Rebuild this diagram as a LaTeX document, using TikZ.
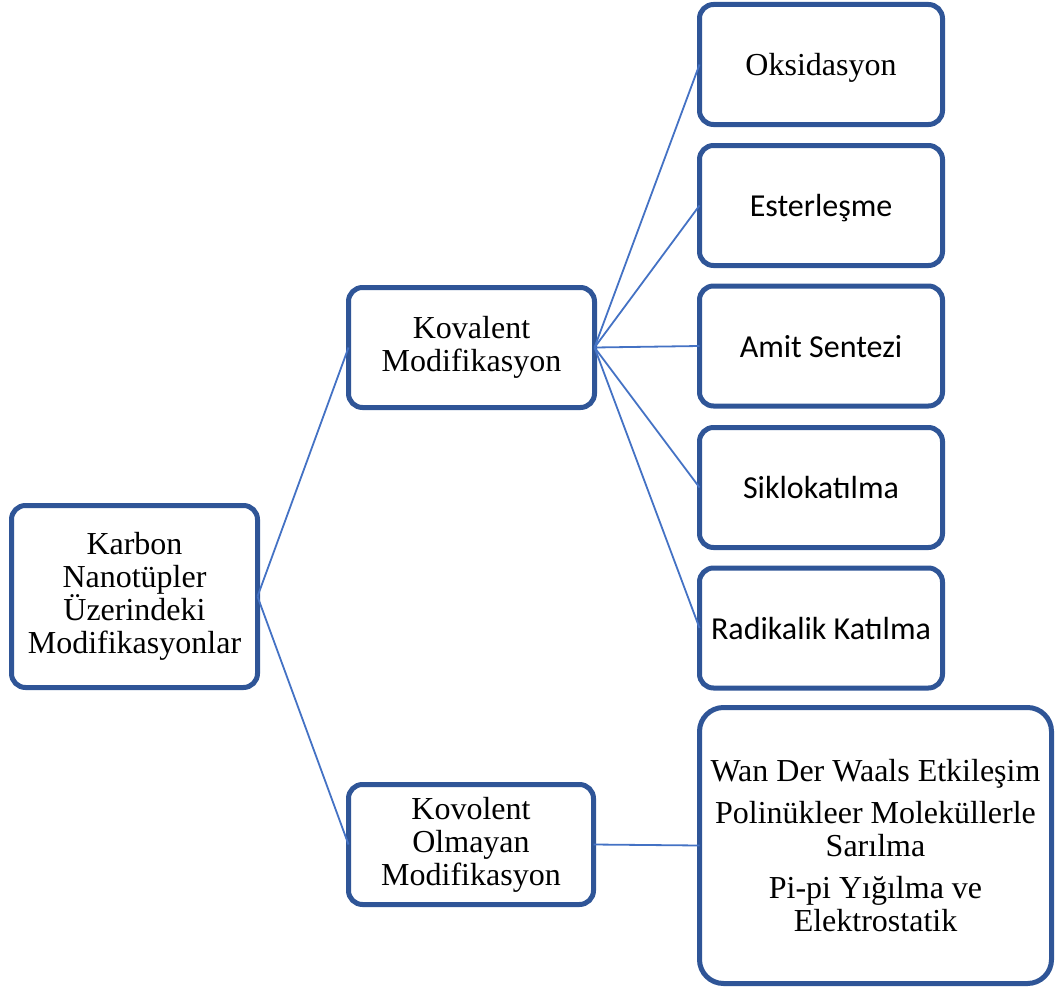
\documentclass[tikz,border=0pt]{standalone}
\usepackage{fontspec}
\setmainfont{Liberation Serif}
\newfontfamily\calibrifont{Carlito}
\usepackage{xcolor}
\usepackage{tikz}
\usetikzlibrary{positioning}
\definecolor{boxblue}{HTML}{2F5597}
\definecolor{lineblue}{HTML}{4472C4}

\begin{document}
\begin{tikzpicture}[
  x=1pt, y=-1pt,
  box/.style={draw=boxblue, fill=white, line width=5pt, rounded corners=14pt, align=center, outer sep=0pt, inner sep=2pt, font=\fontsize{32}{33}\selectfont},
  subbox/.style={box, minimum width=243pt, minimum height=120pt, text depth=0pt},
  sansbox/.style={subbox, font=\calibrifont\fontsize{32}{33}\selectfont},
  link/.style={draw=lineblue, line width=1.8pt},
]
  \useasboundingbox (0,0) rectangle (1057,990);

  \node[box, minimum width=246pt, minimum height=182pt] (root) at (134.5,596.5) {Karbon\\Nanotüpler\\Üzerindeki\\Modifikasyonlar};

  \node[box, minimum width=246pt, minimum height=120pt] (kov)  at (471.5,347.5) {Kovalent\\Modifikasyon};
  \node[box, minimum width=245pt, minimum height=120pt] (nkov) at (471,844.5) {Kovolent\\Olmayan\\Modifikasyon};

  \node[subbox]  (oks) at (821,64.5)  {Oksidasyon};
  \node[sansbox] (est) at (821,205.5) {Esterleşme};
  \node[sansbox] (ami) at (821,346)   {Amit Sentezi};
  \node[sansbox] (sik) at (821,487.5) {Siklokatılma};
  \node[sansbox] (rad) at (821,628)   {Radikalik Katılma};

  \node[box, rounded corners=24pt, minimum width=352pt, minimum height=276pt] (nkovlist) at (875.5,845.5) {Wan Der Waals Etkileşim\\[9pt]Polinükleer Moleküllerle\\Sarılma\\[9pt]Pi-pi Yığılma ve\\Elektrostatik};

  \draw[link] (root.east) -- (kov.west);
  \draw[link] (root.east) -- (nkov.west);
  \foreach \leaf in {oks,est,ami,sik,rad}
    \draw[link] (kov.east) -- (\leaf.west);
  \draw[link] (nkov.east) -- (nkovlist.west);
\end{tikzpicture}
\end{document}
